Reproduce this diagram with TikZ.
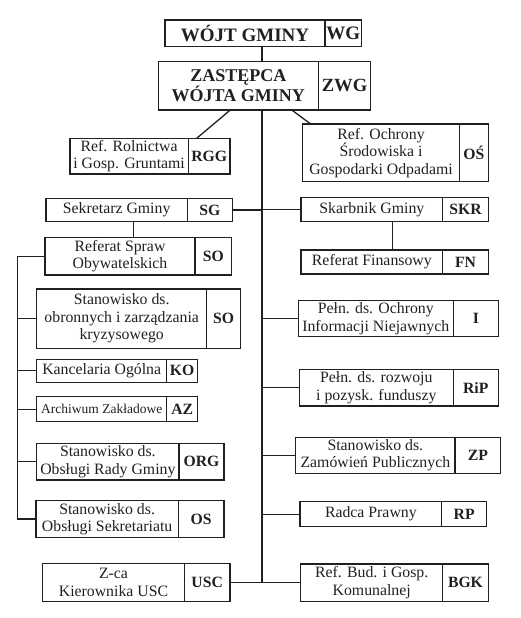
\documentclass[tikz,border=0pt]{standalone}
\usepackage{fontspec}
\setmainfont{Liberation Serif}
\usepackage{tikz}
\usetikzlibrary{positioning}
\definecolor{ink}{RGB}{35,31,32}
\tikzset{
  namebox/.style={draw=ink, line width=1.3pt, outer sep=0pt, inner sep=1pt,
    anchor=north west, minimum width=142pt, minimum height=#1, align=center,
    text=ink, font=\fontsize{15.8pt}{17.5pt}\selectfont},
  codebox/.style={draw=ink, line width=1.3pt, outer sep=0pt, inner sep=1pt,
    anchor=west, minimum width=45pt, minimum height=#1, align=center,
    text=ink, font=\bfseries\fontsize{15.7pt}{17pt}\selectfont},
  link/.style={draw=ink, line width=1.3pt}
}

\begin{document}
\begin{tikzpicture}[x=1pt, y=-1pt]
\useasboundingbox (0,0) rectangle (520,618);

\node[namebox=26.7pt, minimum width=160pt, font=\bfseries\fontsize{19pt}{20pt}\selectfont] (wg) at (165,20) {WÓJT GMINY};
\node[codebox=26.7pt, minimum width=36.7pt, font=\bfseries\fontsize{19pt}{20pt}\selectfont, right=0pt of wg] (wgcode) {WG};

\node[namebox=48.3pt, minimum width=160pt, font=\bfseries\fontsize{18pt}{20pt}\selectfont] (zwg) at (158.3,61.7) {ZASTĘPCA\\WÓJTA GMINY};
\node[codebox=48.3pt, minimum width=52.4pt, font=\bfseries\fontsize{18.6pt}{20pt}\selectfont, right=0pt of zwg] (zwgcode) {ZWG};

\node[namebox=35.7pt, minimum width=118.3pt] (rgg) at (70,138.3) {Ref. Rolnictwa\\i Gosp. Gruntami};
\node[codebox=35.7pt, minimum width=41.7pt, right=0pt of rgg] (rggcode) {RGG};

\node[namebox=57.7pt, minimum width=156.6pt] (ros) at (302.7,124) {Ref. Ochrony\\Środowiska i\\Gospodarki Odpadami};
\node[codebox=57.7pt, minimum width=29pt, right=0pt of ros] (roscode) {OŚ};

\node[namebox=23.4pt, minimum width=141.3pt] (sg) at (46,198.3) {Sekretarz Gminy};
\node[codebox=23.4pt, right=0pt of sg] (sgcode) {SG};

\node[namebox=24pt, minimum width=141.7pt] (skr) at (301,197.7) {Skarbnik Gminy};
\node[codebox=24pt, minimum width=45.6pt, right=0pt of skr] (skrcode) {SKR};

\node[namebox=37.7pt, minimum width=150pt] (rso) at (45,237.3) {Referat Spraw\\Obywatelskich};
\node[codebox=37.7pt, minimum width=36.7pt, right=0pt of rso] (rsocode) {SO};

\node[namebox=24pt, minimum width=141.7pt] (fn) at (301,250) {Referat Finansowy};
\node[codebox=24pt, minimum width=45.6pt, right=0pt of fn] (fncode) {FN};

\node[namebox=59.3pt, minimum width=170pt] (sok) at (36.7,289) {Stanowisko ds.\\obronnych i zarządzania\\kryzysowego};
\node[codebox=59.3pt, minimum width=34pt, right=0pt of sok] (sokcode) {SO};

\node[namebox=36pt, minimum width=155pt] (oin) at (298.3,300.7) {Pełn. ds. Ochrony\\Informacji Niejawnych};
\node[codebox=36pt, right=0pt of oin] (oincode) {I};

\node[namebox=23pt, minimum width=130pt] (ko) at (36.7,359.3) {Kancelaria Ogólna};
\node[codebox=23pt, minimum width=31pt, right=0pt of ko] (kocode) {KO};

\node[namebox=36.7pt, minimum width=154pt] (rip) at (299.3,369.3) {Pełn. ds. rozwoju\\i pozysk. funduszy};
\node[codebox=36.7pt, right=0pt of rip] (ripcode) {RiP};

\node[namebox=25pt, minimum width=130pt, font=\fontsize{13.5pt}{15pt}\selectfont] (az) at (36.7,396.7) {Archiwum Zakładowe};
\node[codebox=25pt, minimum width=31pt, right=0pt of az] (azcode) {AZ};

\node[namebox=36pt, minimum width=159.3pt] (zp) at (295.7,437.3) {Stanowisko ds.\\Zamówień Publicznych};
\node[codebox=36pt, minimum width=45.7pt, right=0pt of zp] (zpcode) {ZP};

\node[namebox=36.7pt, minimum width=142.3pt] (org) at (36.7,443.3) {Stanowisko ds.\\Obsługi Rady Gminy};
\node[codebox=36.7pt, right=0pt of org] (orgcode) {ORG};

\node[namebox=36.6pt, minimum width=142.3pt] (os) at (36,500.7) {Stanowisko ds.\\Obsługi Sekretariatu};
\node[codebox=36.6pt, minimum width=45.7pt, right=0pt of os] (oscode) {OS};

\node[namebox=25pt, minimum width=141.7pt] (rp) at (300,501.7) {Radca Prawny};
\node[codebox=25pt, right=0pt of rp] (rpcode) {RP};

\node[namebox=38.4pt, minimum width=141.6pt] (usc) at (42.7,563.3) {Z-ca\\Kierownika USC};
\node[codebox=38.4pt, minimum width=45.7pt, right=0pt of usc] (usccode) {USC};

\node[namebox=37.7pt, minimum width=142pt] (bgk) at (300.7,564) {Ref. Bud. i Gosp.\\Komunalnej};
\node[codebox=37.7pt, minimum width=45.6pt, right=0pt of bgk] (bgkcode) {BGK};

\coordinate (trunk) at (262,0);
\coordinate (lspine) at (17.3,0);

\draw[link] (wg.south -| trunk) -- (zwg.north -| trunk);
\draw[link] (zwg.south -| trunk) -- (usccode.east -| trunk);
\draw[link] ([xshift=-8pt]zwg.south) -- ([xshift=8.4pt]rggcode.north west);
\draw[link] ([xshift=53.4pt]zwg.south) -- ([xshift=8pt]ros.north west);
\draw[link] (sgcode.east) -- (sgcode.east -| trunk);
\draw[link] (skr.west) -- (skr.west -| trunk);
\foreach \n in {oin,rip,zp,rp}
  \draw[link] (\n.west) -- (\n.west -| trunk);
\draw[link] (usccode.east) -- (usccode.east -| bgk.west);
\draw[link] ([xshift=17pt]sg.south) -- ([xshift=17pt]sg.south |- rso.north);
\draw[link] ([xshift=20.5pt]skr.south) -- ([xshift=20.5pt]skr.south |- fn.north);
\draw[link] (rso.west) -- (rso.west -| lspine) -- (os.west -| lspine) -- (os.west);
\foreach \n in {sok,ko,az,org}
  \draw[link] (\n.west) -- (\n.west -| lspine);
\end{tikzpicture}
\end{document}
